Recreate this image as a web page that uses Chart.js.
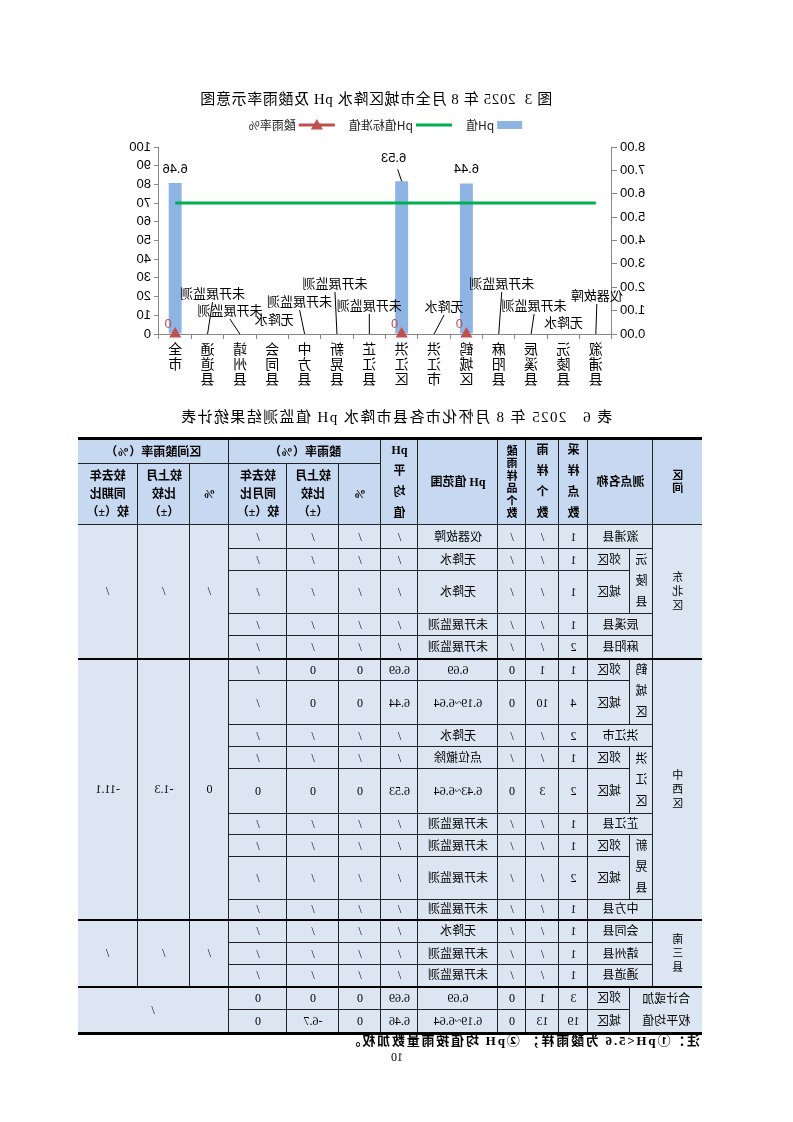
<!DOCTYPE html>
<html lang="zh-CN">
<head>
<meta charset="utf-8">
<title>2025年8月全市城区降水pH及酸雨率</title>
<script src="https://cdn.jsdelivr.net/npm/chart.js@4.4.1/dist/chart.umd.min.js"></script>
<style>
  body { margin: 0; background: #fff; }
  /* a página de referência está espelhada na horizontal */
  #pagina {
    position: relative; width: 793px; height: 1122px; overflow: hidden;
    transform: scaleX(-1);
    font-family: "Liberation Serif", "Noto Sans CJK SC", serif; color: #000;
  }
  .texto { position: absolute; white-space: nowrap; }
  #tituloGrafico { left: 40px; width: 754px; top: 87px; text-align: center; font-size: 15px; letter-spacing: 0.6px; }
  #tituloTabela { left: 0; width: 794px; top: 405px; text-align: center; font-size: 15px; letter-spacing: 1.4px; }
  #caixaGrafico { position: absolute; left: 141px; top: 110px; width: 533px; height: 290px; }
  #tabela {
    position: absolute; left: 91px; top: 437px; width: 624px;
    border-collapse: collapse; table-layout: fixed; font-size: 12px;
    border-top: 3px solid #000; border-bottom: 3px solid #000;
    border-left: hidden; border-right: hidden;
  }
  #tabela td, #tabela th {
    border: 1px solid #222; text-align: center; vertical-align: middle;
    padding: 0; background: #dce6f2; line-height: 14px; font-weight: normal;
  }
  #tabela th { background: #c6d9f1; font-weight: bold; line-height: 18px; }
  #tabela th.alto { line-height: 21px; }
  #tabela th.apertado { line-height: 12.5px; font-size: 11px; }
  #tabela td.v { line-height: 14px; font-size: 11px; }
  #tabela td.cv { line-height: 21px; }
  #tabela tr.g td { border-top: 2px solid #000; }
  #nota { left: 93px; top: 1034px; font-size: 13px; line-height: 14px; font-weight: bold; letter-spacing: 1.8px; }
  #numPagina { left: 390px; top: 1051px; font-size: 12px; line-height: 12px; }
</style>
</head>
<body>
<div id="pagina">
  <div id="tituloGrafico" class="texto">图 3&nbsp;&nbsp;2025 年 8 月全市城区降水 pH 及酸雨率示意图</div>
  <div id="caixaGrafico"><canvas id="grafico-ph"></canvas></div>
  <div id="tituloTabela" class="texto">表 6&nbsp;&nbsp;&nbsp;2025 年 8 月怀化市各县市降水 pH 值监测结果统计表</div>

  <table id="tabela">
    <colgroup>
      <col style="width:49px"><col style="width:23px"><col style="width:42px">
      <col style="width:29px"><col style="width:33px"><col style="width:28px">
      <col style="width:80px"><col style="width:37px"><col style="width:42px">
      <col style="width:52px"><col style="width:58px"><col style="width:39px">
      <col style="width:52px"><col style="width:60px">
    </colgroup>
    <tr style="height:25px">
      <th rowspan="2" style="font-size:11px;line-height:13px">区<br>间</th>
      <th rowspan="2" colspan="2">测点名称</th>
      <th rowspan="2" class="alto">采<br>样<br>点<br>数</th>
      <th rowspan="2" class="alto">雨<br>样<br>个<br>数</th>
      <th rowspan="2" class="apertado">酸<br>雨<br>样<br>品<br>个<br>数</th>
      <th rowspan="2">pH 值范围</th>
      <th rowspan="2" class="alto">pH<br>平<br>均<br>值</th>
      <th colspan="3">酸雨率（%）</th>
      <th colspan="3">区间酸雨率（%）</th>
    </tr>
    <tr style="height:61px">
      <th>%</th><th>较上月<br>比较<br>（±）</th><th>较去年<br>同月比<br>较（±）</th>
      <th>%</th><th>较上月<br>比较<br>（±）</th><th>较去年<br>同期比<br>较（±）</th>
    </tr>

    <tr style="height:24px">
      <td rowspan="5" class="v">东<br>北<br>区</td><td colspan="2">溆浦县</td><td>1</td><td>/</td><td>/</td><td>仪器故障</td><td>/</td><td>/</td><td>/</td><td>/</td>
      <td rowspan="5">/</td><td rowspan="5">/</td><td rowspan="5">/</td>
    </tr>
    <tr style="height:22px"><td rowspan="2" class="cv">沅<br>陵<br>县</td><td>郊区</td><td>1</td><td>/</td><td>/</td><td>无降水</td><td>/</td><td>/</td><td>/</td><td>/</td></tr>
    <tr style="height:43px"><td>城区</td><td>1</td><td>/</td><td>/</td><td>无降水</td><td>/</td><td>/</td><td>/</td><td>/</td></tr>
    <tr style="height:22px"><td colspan="2">辰溪县</td><td>1</td><td>/</td><td>/</td><td>未开展监测</td><td>/</td><td>/</td><td>/</td><td>/</td></tr>
    <tr style="height:23px"><td colspan="2">麻阳县</td><td>2</td><td>/</td><td>/</td><td>未开展监测</td><td>/</td><td>/</td><td>/</td><td>/</td></tr>

    <tr class="g" style="height:22px">
      <td rowspan="9" class="v">中<br>西<br>区</td><td rowspan="2" class="cv">鹤<br>城<br>区</td><td>郊区</td><td>1</td><td>1</td><td>0</td><td>6.69</td><td>6.69</td><td>0</td><td>0</td><td>/</td>
      <td rowspan="9">0</td><td rowspan="9">-1.3</td><td rowspan="9">-11.1</td>
    </tr>
    <tr style="height:44px"><td>城区</td><td>4</td><td>10</td><td>0</td><td>6.19~6.64</td><td>6.44</td><td>0</td><td>0</td><td>/</td></tr>
    <tr style="height:22px"><td colspan="2">洪江市</td><td>2</td><td>/</td><td>/</td><td>无降水</td><td>/</td><td>/</td><td>/</td><td>/</td></tr>
    <tr style="height:22px"><td rowspan="2" class="cv">洪<br>江<br>区</td><td>郊区</td><td>1</td><td>/</td><td>/</td><td>点位撤除</td><td>/</td><td>/</td><td>/</td><td>/</td></tr>
    <tr style="height:45px"><td>城区</td><td>2</td><td>3</td><td>0</td><td>6.43~6.64</td><td>6.53</td><td>0</td><td>0</td><td>0</td></tr>
    <tr style="height:21px"><td colspan="2">芷江县</td><td>1</td><td>/</td><td>/</td><td>未开展监测</td><td>/</td><td>/</td><td>/</td><td>/</td></tr>
    <tr style="height:22px"><td rowspan="2" class="cv">新<br>晃<br>县</td><td>郊区</td><td>1</td><td>/</td><td>/</td><td>未开展监测</td><td>/</td><td>/</td><td>/</td><td>/</td></tr>
    <tr style="height:43px"><td>城区</td><td>2</td><td>/</td><td>/</td><td>未开展监测</td><td>/</td><td>/</td><td>/</td><td>/</td></tr>
    <tr style="height:20px"><td colspan="2">中方县</td><td>1</td><td>/</td><td>/</td><td>未开展监测</td><td>/</td><td>/</td><td>/</td><td>/</td></tr>

    <tr class="g" style="height:23px">
      <td rowspan="3" class="v">南<br>三<br>县</td><td colspan="2">会同县</td><td>1</td><td>/</td><td>/</td><td>无降水</td><td>/</td><td>/</td><td>/</td><td>/</td>
      <td rowspan="3">/</td><td rowspan="3">/</td><td rowspan="3">/</td>
    </tr>
    <tr style="height:22px"><td colspan="2">靖州县</td><td>1</td><td>/</td><td>/</td><td>未开展监测</td><td>/</td><td>/</td><td>/</td><td>/</td></tr>
    <tr style="height:22px"><td colspan="2">通道县</td><td>1</td><td>/</td><td>/</td><td>未开展监测</td><td>/</td><td>/</td><td>/</td><td>/</td></tr>

    <tr class="g" style="height:22px">
      <td rowspan="2" colspan="2" style="line-height:22px">合计或加<br>权平均值</td><td>郊区</td><td>3</td><td>1</td><td>0</td><td>6.69</td><td>6.69</td><td>0</td><td>0</td><td>0</td>
      <td rowspan="2" colspan="3">/</td>
    </tr>
    <tr style="height:22px"><td>城区</td><td>19</td><td>13</td><td>0</td><td>6.19~6.64</td><td>6.46</td><td>0</td><td>-6.7</td><td>0</td></tr>
  </table>

  <div id="nota" class="texto">注：①pH&lt;5.6 为酸雨样；&nbsp;②pH 均值按雨量数加权。</div>
  <div id="numPagina" class="texto">10</div>
</div>

<script>
// dados (ordem original, antes do espelhamento)
var nomesLocais = ['溆浦县', '沅陵县', '辰溪县', '麻阳县', '鹤城区', '洪江市', '洪江区', '芷江县', '新晃县', '中方县', '会同县', '靖州县', '通道县', '全市'];
var valoresPh = [null, null, null, null, 6.44, null, 6.53, null, null, null, null, null, null, 6.46];
var padraoPh = [5.6, 5.6, 5.6, 5.6, 5.6, 5.6, 5.6, 5.6, 5.6, 5.6, 5.6, 5.6, 5.6, 5.6];
var taxaChuvaAcida = [null, null, null, null, 0, null, 0, null, null, null, null, null, null, 0];
var notasLocais = ['仪器故障', '无降水', '未开展监测', '未开展监测', '', '无降水', '', '未开展监测', '未开展监测', '未开展监测', '无降水', '未开展监测', '未开展监测', ''];
var nomesSeries = ['pH值', 'pH值标准值', '酸雨率%'];

var fonteEixo = { family: '"Liberation Sans", Arial, sans-serif', size: 13 };
var corEixo = '#868686';

// texto das notas (无降水 etc.) com linha de chamada
var pluginNotas = {
  id: 'notas',
  afterDatasetsDraw: function (chart, args, opts) {
    var ctx = chart.ctx;
    var eixoX = chart.scales.x;
    var base = chart.scales.yPh.getPixelForValue(0);
    ctx.save();
    ctx.font = '13px "Noto Sans CJK SC"';
    ctx.textAlign = 'center';
    ctx.textBaseline = 'middle';
    ctx.strokeStyle = '#000';
    ctx.lineWidth = 1;
    ctx.fillStyle = '#000';
    for (var i = 0; i < notasLocais.length; i++) {
      if (!notasLocais[i]) continue;
      var pos = opts.posicoes[i];
      var cx = eixoX.getPixelForValue(i);
      var tx = cx + pos[0];
      var ty = base + pos[1];
      if (pos[2]) {
        ctx.beginPath();
        ctx.moveTo(cx, base);
        ctx.lineTo(tx, ty + 9);
        ctx.stroke();
      }
      ctx.fillText(notasLocais[i], tx, ty);
    }
    ctx.restore();
  }
};

// rótulos de valor das barras e dos triângulos
var pluginRotulos = {
  id: 'rotulos',
  afterDatasetsDraw: function (chart, args, opts) {
    var ctx = chart.ctx;
    ctx.save();
    ctx.textAlign = 'center';
    ctx.textBaseline = 'middle';

    var barras = chart.getDatasetMeta(0).data;
    ctx.font = '13px "Liberation Sans", Arial, sans-serif';
    ctx.fillStyle = '#000';
    ctx.strokeStyle = '#000';
    ctx.lineWidth = 1;
    barras.forEach(function (barra, i) {
      if (valoresPh[i] === null) return;
      var d = opts.barras[i] || [0, -14, false];
      if (d[2]) {
        ctx.beginPath();
        ctx.moveTo(barra.x, barra.y);
        ctx.lineTo(barra.x + d[0] / 2, barra.y - 12);
        ctx.stroke();
      }
      ctx.fillText(valoresPh[i].toFixed(2), barra.x + d[0], barra.y + d[1]);
    });

    var pontos = chart.getDatasetMeta(2).data;
    ctx.font = '13px "Liberation Sans", Arial, sans-serif';
    ctx.fillStyle = '#C0504D';
    pontos.forEach(function (p, i) {
      if (taxaChuvaAcida[i] === null) return;
      ctx.fillText(String(taxaChuvaAcida[i]), p.x + 7, p.y - 10);
    });
    ctx.restore();
  }
};

// legenda desenhada à mão (linha + triângulo não existe na legenda padrão)
var pluginLegenda = {
  id: 'legendaManual',
  afterDraw: function (chart, args, opts) {
    var ctx = chart.ctx;
    var area = chart.chartArea;
    ctx.save();
    ctx.font = '12px "Noto Sans CJK SC"';
    ctx.textBaseline = 'middle';
    var itens = chart.data.datasets.map(function (ds) {
      return { ds: ds, largura: ctx.measureText(ds.label).width, marca: ds.type === 'bar' ? 25 : 36 };
    });
    var total = 0;
    itens.forEach(function (it) { total += it.marca + 3 + it.largura; });
    total += opts.espaco * (itens.length - 1);
    var x = (area.left + area.right) / 2 - total / 2;
    var y = opts.y;
    itens.forEach(function (it) {
      var ds = it.ds;
      if (ds.type === 'bar') {
        ctx.fillStyle = ds.backgroundColor;
        ctx.fillRect(x, y - 4, it.marca, 8);
      } else {
        ctx.strokeStyle = ds.borderColor;
        ctx.lineWidth = 3;
        ctx.beginPath();
        ctx.moveTo(x, y);
        ctx.lineTo(x + it.marca, y);
        ctx.stroke();
        if (ds.pointStyle === 'triangle') {
          ctx.fillStyle = ds.backgroundColor;
          Chart.helpers.drawPoint(ctx, { pointStyle: 'triangle', radius: 7, rotation: 0, borderWidth: 0 }, x + it.marca / 2, y + 1);
        }
      }
      ctx.fillStyle = '#222';
      ctx.fillText(ds.label, x + it.marca + 3, y);
      x += it.marca + 3 + it.largura + opts.espaco;
    });
    ctx.restore();
  }
};

function montarGrafico() {
  var ctx1 = document.getElementById('grafico-ph').getContext('2d');

  var graficoPh = new Chart(ctx1, {
    data: {
      labels: nomesLocais.map(function (n) { return n.split(''); }),
      datasets: [
        {
          type: 'bar',
          label: nomesSeries[0],
          data: valoresPh,
          yAxisID: 'yPh',
          backgroundColor: '#8EB4E3',
          categoryPercentage: 1,
          barPercentage: 0.4,
          order: 3,
        },
        {
          type: 'line',
          label: nomesSeries[1],
          data: padraoPh,
          yAxisID: 'yPh',
          borderColor: '#00B050',
          backgroundColor: '#00B050',
          borderWidth: 3,
          pointRadius: 0,
          tension: 0,
          order: 2,
        },
        {
          type: 'line',
          label: nomesSeries[2],
          data: taxaChuvaAcida,
          yAxisID: 'yTaxa',
          borderColor: '#C0504D',
          backgroundColor: '#C0504D',
          borderWidth: 3,
          pointStyle: 'triangle',
          pointRadius: 7,
          pointBorderWidth: 0,
          spanGaps: false,
          clip: false,
          order: 1,
        },
      ],
    },
    options: {
      responsive: true,
      maintainAspectRatio: false,
      animation: false,
      layout: { padding: { top: 37, bottom: 6, left: 0, right: 0 } },
      plugins: {
        legend: { display: false },
        tooltip: { enabled: false },
        legendaManual: { y: 15, espaco: 14 },
        rotulos: { barras: { 6: [8, -23, true] } },
        notas: {
          // [dx, dy a partir do zero, linha de chamada]
          posicoes: [
            [-1, -39, true], [0, -12, false], [-3, -29, true], [-3, -51, true], null,
            [-10, -28, true], null, [0, -29, true], [2, -51, true], [5, -33, true],
            [-2, -15, false], [10, -24, true], [-5, -41, true], null,
          ],
        },
      },
      scales: {
        x: {
          grid: { display: true, drawOnChartArea: false, drawTicks: true, tickLength: 5, color: corEixo, offset: true },
          border: { color: corEixo },
          ticks: {
            autoSkip: false, maxRotation: 0, minRotation: 0, padding: 2, color: '#000',
            font: { family: '"Noto Sans CJK SC"', size: 14, lineHeight: 1.07 },
          },
          afterFit: function (s) { s.height = 60; },
        },
        yPh: {
          position: 'left',
          min: 0,
          max: 8,
          grid: { drawOnChartArea: false, drawTicks: true, tickLength: 5, color: corEixo },
          border: { color: corEixo },
          ticks: {
            stepSize: 1, padding: 3, color: '#000', font: fonteEixo,
            callback: function (v) { return Number(v).toFixed(2); },
          },
          afterFit: function (s) { s.width = 40; },
        },
        yTaxa: {
          position: 'right',
          min: 0,
          max: 100,
          grid: { drawOnChartArea: false, drawTicks: true, tickLength: 5, color: corEixo },
          border: { color: corEixo },
          ticks: { stepSize: 10, padding: 3, color: '#000', font: fonteEixo },
          afterFit: function (s) { s.width = 40; },
        },
      },
    },
    plugins: [pluginNotas, pluginRotulos, pluginLegenda],
  });
  return graficoPh;
}

montarGrafico();
</script>
</body>
</html>
